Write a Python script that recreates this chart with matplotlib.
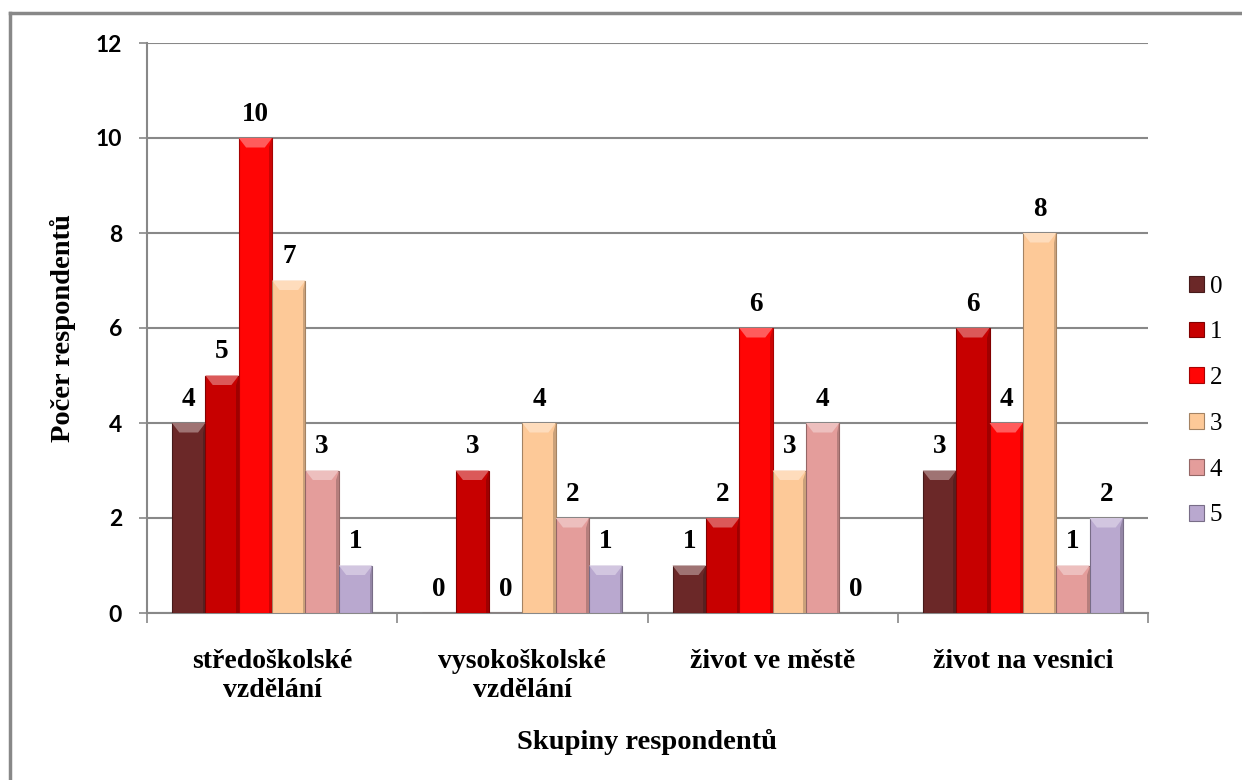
import matplotlib.pyplot as plt
import numpy as np
from matplotlib.colors import to_rgb
from matplotlib.lines import Line2D
from matplotlib.patches import Patch, Polygon

# category labels (x axis) and series (answer values 0-5)
groups = ["středoškolské\nvzdělání", "vysokoškolské\nvzdělání",
          "život ve městě", "život na vesnici"]
series_names = ["0", "1", "2", "3", "4", "5"]
counts_0 = [4, 0, 1, 3]
counts_1 = [5, 3, 2, 6]
counts_2 = [10, 0, 6, 4]
counts_3 = [7, 4, 3, 8]
counts_4 = [3, 2, 4, 1]
counts_5 = [1, 1, 0, 2]
series_values = [counts_0, counts_1, counts_2, counts_3, counts_4, counts_5]
colors = ["#6B2828", "#C70000", "#FF0505", "#FDC998", "#E49D9B", "#B9A8CF"]

y_ticks = [0, 2, 4, 6, 8, 10, 12]

SERIF = "Liberation Serif"
SANS = "Lato"
GRID = "#888888"


def shade(color, amount):
    # amount > 0 blends with white, < 0 blends with black
    rgb = np.array(to_rgb(color))
    if amount >= 0:
        return tuple(rgb + (1 - rgb) * amount)
    return tuple(rgb * (1 + amount))


fig = plt.figure(figsize=(12.42, 7.8), dpi=100)
ax = fig.add_axes([147 / 1242, 167 / 780, 1001 / 1242, 570 / 780])

x = np.arange(len(groups))
n = len(series_names)
width = 0.8 / n

for i, (name, values, color) in enumerate(zip(series_names, series_values, colors)):
    offset = (i - (n - 1) / 2) * width
    bars = ax.bar(x + offset, values, width, color=color,
                  edgecolor=shade(color, -0.35), linewidth=0.8, zorder=3)
    for bar, value in zip(bars, values):
        bx, bw, bh = bar.get_x(), bar.get_width(), bar.get_height()
        if bh > 0:
            # light bevel on top of each bar
            bevel = min(0.2, bh / 2)
            inset = bw * 0.22
            ax.add_patch(Polygon(
                [(bx, bh), (bx + bw, bh), (bx + bw - inset, bh - bevel),
                 (bx + inset, bh - bevel)],
                closed=True, facecolor=shade(color, 0.35), edgecolor="none",
                zorder=4))
            # darker side edges
            ax.add_patch(Polygon(
                [(bx + bw, bh), (bx + bw, 0), (bx + bw - bw * 0.08, 0),
                 (bx + bw - bw * 0.08, bh - bevel)],
                closed=True, facecolor=shade(color, -0.2), edgecolor="none",
                zorder=4))
        ax.annotate(str(value), (bx + bw / 2, bh), xytext=(0, 8),
                    textcoords="offset points", ha="center", va="bottom",
                    fontsize=19.5, fontweight="bold", family=SERIF, zorder=5)

ax.set_ylim(0, 12)
ax.set_xlim(-0.5, len(groups) - 0.5)
ax.set_yticks(y_ticks)
ax.set_yticklabels([str(t) for t in y_ticks], fontsize=16.5, fontweight="bold",
                   family=SANS)
ax.grid(axis="y", color=GRID, linewidth=1.5, zorder=0)

ax.set_xticks(x)
ax.set_xticklabels(groups, fontsize=20, fontweight="bold", family=SERIF,
                   linespacing=1.2)
ax.tick_params(axis="x", which="major", length=0, pad=26)
ax.set_xticks(np.arange(len(groups) + 1) - 0.5, minor=True)
ax.tick_params(axis="x", which="minor", length=7, color=GRID, width=1.2)
ax.tick_params(axis="y", length=6, color=GRID, width=1.2, pad=12)

for side in ("top", "right"):
    ax.spines[side].set_visible(False)
for side in ("left", "bottom"):
    ax.spines[side].set_color(GRID)
    ax.spines[side].set_linewidth(1.5)

fig.text(63 / 1242, 1 - 328 / 780, "Počer respondentů", rotation=90,
         ha="center", va="center", fontsize=20.5, fontweight="bold",
         family=SERIF)
fig.text(647 / 1242, 1 - 742 / 780, "Skupiny respondentů", ha="center",
         va="center", fontsize=20.5, fontweight="bold", family=SERIF)

handles = [Patch(facecolor=c, edgecolor=shade(c, -0.35), linewidth=0.8)
           for c in colors]
leg = fig.legend(handles, series_names, loc="center left",
                 bbox_to_anchor=(1166 / 1242, 1 - 401 / 780), frameon=False,
                 prop={"family": SERIF, "size": 18}, handlelength=0.6,
                 handleheight=0.6, handletextpad=0.25, labelspacing=0.95)

# outer chart frame (left and top edges)
fig.add_artist(Line2D([10 / 1242, 10 / 1242], [0, 1 - 13 / 780],
                      color=GRID, linewidth=2.5, transform=fig.transFigure))
fig.add_artist(Line2D([10 / 1242, 1], [1 - 13 / 780, 1 - 13 / 780],
                      color=GRID, linewidth=2.5, transform=fig.transFigure))

fig.savefig("out.png", dpi=100)
